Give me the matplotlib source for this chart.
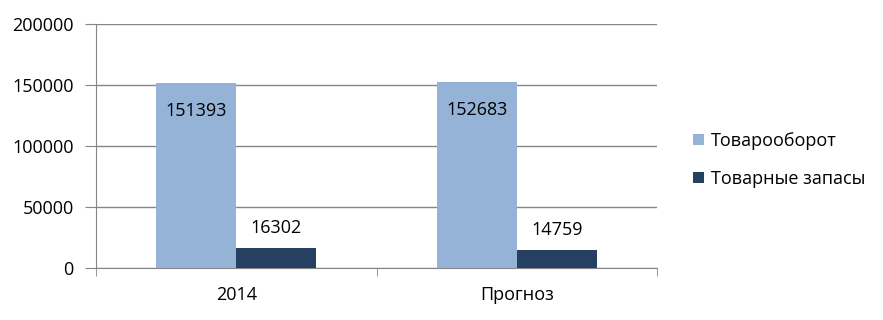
import numpy as np
import matplotlib
matplotlib.use("Agg")
import matplotlib.pyplot as plt

categories = ["2014", "Прогноз"]
turnover = [151393, 152683]
stocks = [16302, 14759]
series_names = ["Товарооборот", "Товарные запасы"]
yticks = [0, 50000, 100000, 150000, 200000]

plt.rcParams['font.family'] = ['Open Sans', 'DejaVu Sans']
grid_c = "#868686"
c_light = "#95B3D7"
c_dark = "#254061"
fs = 13

W, H = 883, 320
fig = plt.figure(figsize=(W / 100, H / 100), dpi=100)
ax = fig.add_axes([96 / W, 1 - 268 / H, (657 - 96) / W, (268 - 24) / H])

x = np.arange(len(categories))
w = 1 / 3.5
b1 = ax.bar(x - w / 2, turnover, w, color=c_light, label=series_names[0], zorder=3)
b2 = ax.bar(x + w / 2, stocks, w, color=c_dark, label=series_names[1], zorder=3)

for r, v in zip(b1, turnover):
    ax.annotate(str(v), (r.get_x() + r.get_width() / 2, v), xytext=(0, -28),
                textcoords="offset pixels", ha="center", va="center", fontsize=fs, color="black")
for r, v in zip(b2, stocks):
    ax.annotate(str(v), (r.get_x() + r.get_width() / 2, v), xytext=(0, 20),
                textcoords="offset pixels", ha="center", va="center", fontsize=fs, color="black")

ax.set_xlim(-0.5, 1.5)
ax.set_ylim(0, 200000)
ax.set_yticks(yticks)
ax.set_yticklabels([str(t) for t in yticks], fontsize=fs)
ax.yaxis.grid(True, color=grid_c, linewidth=1, zorder=0)
ax.tick_params(axis="y", length=8, color=grid_c, pad=8)

ax.set_xticks(x)
ax.set_xticklabels(categories, fontsize=fs)
ax.set_xticks([-0.5, 0.5, 1.5], minor=True)
ax.tick_params(axis="x", which="major", length=0, pad=13)
ax.tick_params(axis="x", which="minor", length=6, color=grid_c)

for s in ["top", "right"]:
    ax.spines[s].set_visible(False)
ax.spines["left"].set_color(grid_c)
ax.spines["bottom"].set_color(grid_c)

fig.legend(handles=[b1, b2], loc="center left", bbox_to_anchor=(677 / W, 1 - 160 / H),
           frameon=False, fontsize=fs, handlelength=0.6, handleheight=0.6,
           handletextpad=0.4, labelspacing=1.1)

fig.savefig("out.png", dpi=100)
